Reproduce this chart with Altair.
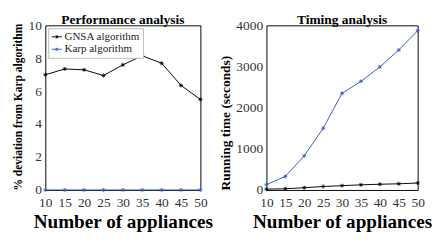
import altair as alt
import pandas as pd

appliances = [10, 15, 20, 25, 30, 35, 40, 45, 50]
dev_gnsa = [7.0, 7.35, 7.3, 6.95, 7.6, 8.15, 7.7, 6.35, 5.5]
dev_karp = [0, 0, 0, 0, 0, 0, 0, 0, 0]
time_gnsa = [20, 30, 55, 85, 105, 125, 140, 150, 170]
time_karp = [130, 330, 830, 1500, 2350, 2640, 2990, 3400, 3870]
series = ["GNSA algorithm", "Karp algorithm"]
colors = ["#000000", "#3a5ab8"]

def frame(a, b):
    return pd.DataFrame({
        "n": appliances * 2,
        "v": a + b,
        "s": [series[0]] * len(a) + [series[1]] * len(b),
    })

perf = frame(dev_gnsa, dev_karp)
timing = frame(time_gnsa, time_karp)

FONT = "Times New Roman, Liberation Serif, serif"
STAR = "M-1,0L1,0M0,-1L0,1M-0.7,-0.7L0.7,0.7M-0.7,0.7L0.7,-0.7"
LEG = "M-1,0L1,0M-0.22,-0.22L0.22,0.22M-0.22,0.22L0.22,-0.22M0,-0.3L0,0.3"

color = alt.Color("s:N", scale=alt.Scale(domain=series, range=colors),
                  legend=alt.Legend(title=None, orient="top-left", offset=3,
                                    symbolType=LEG, symbolSize=110,
                                    symbolStrokeWidth=1, labelFont=FONT,
                                    labelFontSize=11.5, labelColor="#222222",
                                    strokeColor="#bbbbbb", fillColor="white",
                                    padding=3, rowPadding=1, labelOffset=2,
                                    symbolOffset=0))

def panel(df, title, ytitle, ytsize, ydom, yvals, w):
    x = alt.X("n:Q", scale=alt.Scale(domain=[10, 50], nice=False),
              axis=alt.Axis(values=appliances, title="Number of appliances",
                            titleFontSize=20, titleFont=FONT, titleFontWeight="bold",
                            titleColor="black", labelFont=FONT, labelFontSize=14,
                            labelColor="#333333", grid=False, domain=False,
                            ticks=False, labelPadding=6, titlePadding=3,
                            labelOverlap=False, labelFlush=False))
    y = alt.Y("v:Q", scale=alt.Scale(domain=ydom, nice=False),
              axis=alt.Axis(values=yvals, title=ytitle, titleFontSize=ytsize,
                            titleFont=FONT, titleFontWeight="bold", titleColor="black",
                            titleAnchor="start",
                            labelFont=FONT, labelFontSize=14, labelColor="#333333",
                            grid=False, domain=False, ticks=False, labelPadding=4,
                            titlePadding=4, format="d", labelOverlap=False,
                            labelFlush=False))
    base = alt.Chart(df).encode(x=x, y=y, color=color)
    line = base.mark_line(strokeWidth=1, clip=False)
    pts = base.mark_point(shape=STAR, size=18, filled=False, strokeWidth=0.8, opacity=1)
    return alt.layer(line, pts).properties(
        width=w, height=172,
        title=alt.TitleParams(title, font=FONT, fontSize=14, fontWeight="bold",
                              color="black", offset=-9))

left = panel(perf, "Performance analysis", "% deviation from Karp algorithm", 12,
             [0, 10], [0, 2, 4, 6, 8, 10], 162)
right = panel(timing, "Timing analysis", "Running time (seconds)", 14,
              [0, 4000], [0, 1000, 2000, 3000, 4000], 158)

chart = alt.hconcat(left, right, spacing=4).configure_view(
    stroke="black", strokeWidth=1).properties(
    padding={"left": 3, "top": 0, "right": 0, "bottom": 0})

chart.save("out.html", embed_options={"renderer": "svg", "actions": False})
